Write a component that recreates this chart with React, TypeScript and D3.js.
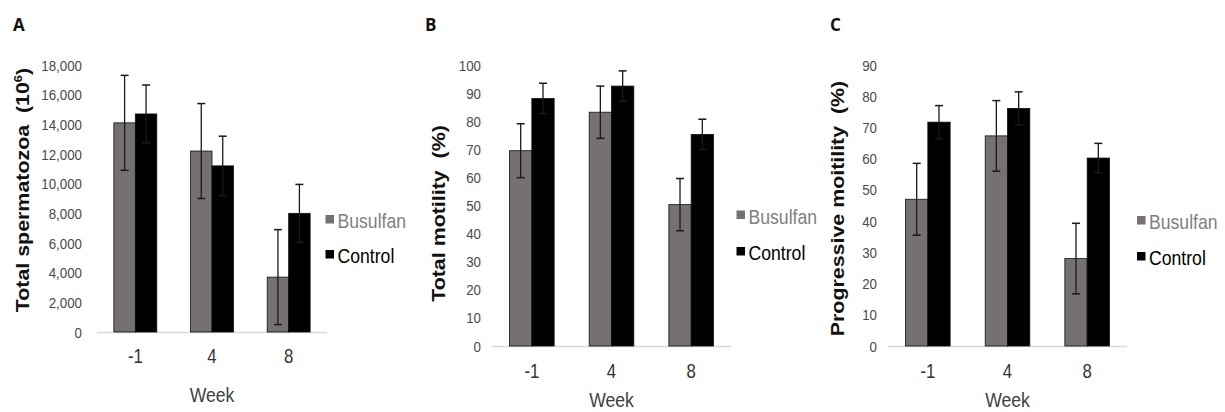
import * as d3 from "d3";
import React from "react";

// week groups on the x axis
const weeks = ["-1", "4", "8"];
const seriesNames = ["Busulfan", "Control"];

// A: total spermatozoa (10^6)
const spermTicks = [0, 2000, 4000, 6000, 8000, 10000, 12000, 14000, 16000, 18000];
const spermBusulfan = [14100, 12200, 3700];
const spermBusulfanErr = [3200, 3200, 3200];
const spermControl = [14700, 11200, 8000];
const spermControlErr = [1950, 2000, 1950];

// B: total motility (%)
const motTicks = [0, 10, 20, 30, 40, 50, 60, 70, 80, 90, 100];
const motBusulfan = [69.5, 83.2, 50.3];
const motBusulfanErr = [9.6, 9.3, 9.3];
const motControl = [88.1, 92.5, 75.3];
const motControlErr = [5.4, 5.4, 5.4];

// C: progressive motility (%)
const progTicks = [0, 10, 20, 30, 40, 50, 60, 70, 80, 90];
const progBusulfan = [47.0, 67.3, 28.0];
const progBusulfanErr = [11.5, 11.3, 11.3];
const progControl = [71.7, 76.1, 60.2];
const progControlErr = [5.3, 5.3, 4.7];

const FONT = "'Liberation Sans', Arial, sans-serif";
const SQ = 0.86; // the figure is horizontally squeezed
const GREY = "#767171";

function CText({ x, y, size, anchor = "start", fill = "#404040", weight = 400, rot = false, children }: any) {
  return (
    <text
      transform={`translate(${x},${y}) scale(${SQ},1)${rot ? " rotate(-90)" : ""}`}
      fontFamily={FONT}
      fontSize={size}
      fontWeight={weight}
      textAnchor={anchor}
      fill={fill}
    >
      {children}
    </text>
  );
}

function Panel({ cfg }: any) {
  const { letter, letterX, x0, x1, y0, yTop, max, ticks, fmt, tickRight, title, titleX, titleY, sup,
    busulfan, busulfanErr, control, controlErr, xLabY, weekY, legX, legY } = cfg;

  const x = d3.scaleBand().domain(weeks).range([x0, x1]).paddingInner(0.44).paddingOuter(0.22);
  const inner = d3.scaleBand().domain(seriesNames).range([0, x.bandwidth()]);
  const y = d3.scaleLinear().domain([0, max]).range([y0, yTop]);

  const series = [
    { name: "Busulfan", vals: busulfan, errs: busulfanErr, fill: GREY },
    { name: "Control", vals: control, errs: controlErr, fill: "#000" },
  ];

  return (
    <g>
      <text x={letterX} y={31} fontFamily="'Open Sans', sans-serif" fontWeight={700} fontSize={17} fill="#111">
        {letter}
      </text>

      {ticks.map((t: number) => (
        <CText key={t} x={tickRight} y={y(t) + 5.5} size={15.5} anchor="end" fill="#4a4a4a">
          {fmt(t)}
        </CText>
      ))}

      <line x1={x0} x2={x1} y1={y0 + 0.5} y2={y0 + 0.5} stroke="#d9d9d9" strokeWidth={1.6} />

      {series.map((s) =>
        weeks.map((w, i) => {
          const bx = (x(w) as number) + (inner(s.name) as number);
          const bw = inner.bandwidth();
          const cx = bx + bw / 2;
          return (
            <g key={s.name + w}>
              <rect x={bx} y={y(s.vals[i])} width={bw} height={y0 - y(s.vals[i])} fill={s.fill} stroke="#111" strokeWidth={0.8} />
              <line x1={cx} x2={cx} y1={y(s.vals[i] - s.errs[i])} y2={y(s.vals[i] + s.errs[i])} stroke="#1a1a1a" strokeWidth={1.3} />
              <line x1={cx - 4} x2={cx + 4} y1={y(s.vals[i] + s.errs[i])} y2={y(s.vals[i] + s.errs[i])} stroke="#1a1a1a" strokeWidth={1.5} />
              <line x1={cx - 4} x2={cx + 4} y1={y(s.vals[i] - s.errs[i])} y2={y(s.vals[i] - s.errs[i])} stroke="#1a1a1a" strokeWidth={1.5} />
            </g>
          );
        })
      )}

      {weeks.map((w) => (
        <CText key={w} x={(x(w) as number) + x.bandwidth() / 2} y={xLabY} size={19.5} anchor="middle" fill="#333">
          {w}
        </CText>
      ))}
      <CText x={(x0 + x1) / 2} y={weekY} size={20.5} anchor="middle" fill="#404040">Week</CText>

      <CText x={titleX} y={titleY} size={21.4} anchor="middle" fill="#111" weight={700} rot>
        {title}
        {sup ? (
          <>
            <tspan fontSize={13} dy={-8}>{sup}</tspan>
            <tspan dy={8}>)</tspan>
          </>
        ) : null}
      </CText>

      {series.map((s, i) => (
        <g key={s.name}>
          <rect x={legX} y={legY[i] - 13} width={8.5} height={8.5} fill={s.fill} />
          <CText x={legX + 12} y={legY[i]} size={20.5} fill={i === 0 ? "#808080" : "#000"}>
            {s.name}
          </CText>
        </g>
      ))}
    </g>
  );
}

const panels = [
  {
    letter: "A", letterX: 13, x0: 97, x1: 327, y0: 332, yTop: 65, max: 18000, ticks: spermTicks,
    fmt: d3.format(","), tickRight: 82, title: "Total spermatozoa\u00a0\u00a0(10", sup: "6",
    titleX: 28.5, titleY: 190, busulfan: spermBusulfan, busulfanErr: spermBusulfanErr,
    control: spermControl, controlErr: spermControlErr, xLabY: 363, weekY: 402, legX: 325.5, legY: [228, 263],
  },
  {
    letter: "B", letterX: 425, x0: 492, x1: 731, y0: 346, yTop: 65, max: 100, ticks: motTicks,
    fmt: d3.format("d"), tickRight: 481, title: "Total motility\u00a0\u00a0(%)", sup: null,
    titleX: 445, titleY: 213.5, busulfan: motBusulfan, busulfanErr: motBusulfanErr,
    control: motControl, controlErr: motControlErr, xLabY: 378, weekY: 407, legX: 736.5, legY: [223.5, 260],
  },
  {
    letter: "C", letterX: 830, x0: 888, x1: 1127, y0: 346, yTop: 65, max: 90, ticks: progTicks,
    fmt: d3.format("d"), tickRight: 877, title: "Progressive moitility\u00a0\u00a0(%)", sup: null,
    titleX: 844, titleY: 208.5, busulfan: progBusulfan, busulfanErr: progBusulfanErr,
    control: progControl, controlErr: progControlErr, xLabY: 378, weekY: 407, legX: 1137, legY: [229, 265],
  },
];

export default function App() {
  return (
    <svg width={1225} height={412} style={{ position: "absolute", left: 0, top: 0, background: "#fff" }}>
      <rect width={1225} height={412} fill="#fff" />
      {panels.map((p) => (
        <Panel key={p.letter} cfg={p} />
      ))}
    </svg>
  );
}
